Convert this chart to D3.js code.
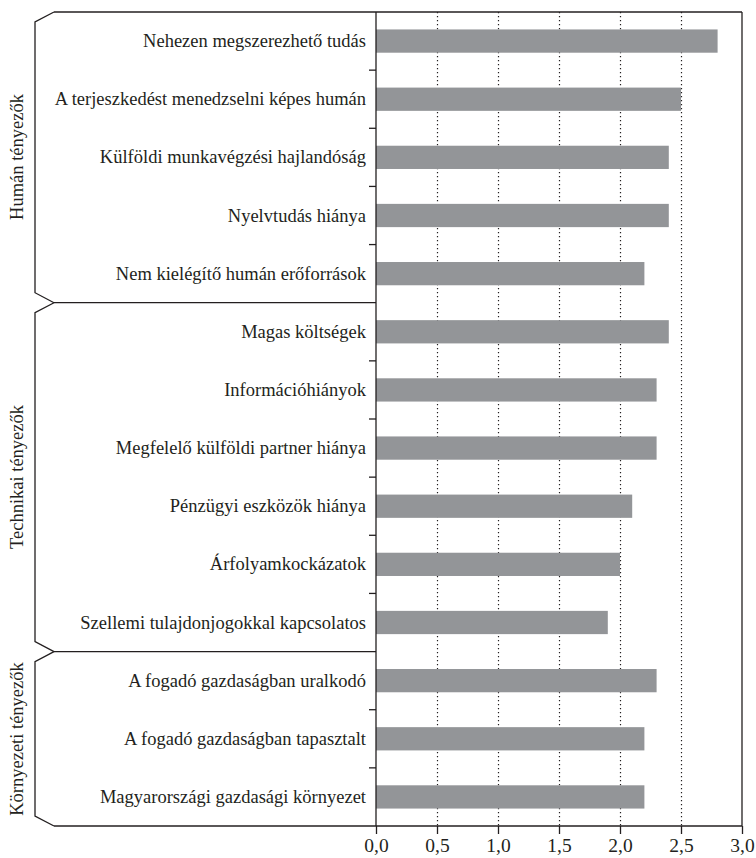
<!DOCTYPE html>
<html>
<head>
<meta charset="utf-8">
<script src="https://cdn.jsdelivr.net/npm/d3@7"></script>
<style>
  html, body { margin: 0; padding: 0; background: #fff; }
</style>
</head>
<body>
<svg id="chart" width="756" height="858"></svg>
<script>
// Factors and their average scores
const categories = [
  "Nehezen megszerezhető tudás",
  "A terjeszkedést menedzselni képes humán",
  "Külföldi munkavégzési hajlandóság",
  "Nyelvtudás hiánya",
  "Nem kielégítő humán erőforrások",
  "Magas költségek",
  "Információhiányok",
  "Megfelelő külföldi partner hiánya",
  "Pénzügyi eszközök hiánya",
  "Árfolyamkockázatok",
  "Szellemi tulajdonjogokkal kapcsolatos",
  "A fogadó gazdaságban uralkodó",
  "A fogadó gazdaságban tapasztalt",
  "Magyarországi gazdasági környezet"
];
const values = [2.8, 2.5, 2.4, 2.4, 2.2, 2.4, 2.3, 2.3, 2.1, 2.0, 1.9, 2.3, 2.2, 2.2];

// Groups: name, first category index, last category index
const groupNames = ["Humán tényezők", "Technikai tényezők", "Környezeti tényezők"];
const groupStart = [0, 5, 11];
const groupEnd = [4, 10, 13];

const xTicks = [0, 0.5, 1, 1.5, 2, 2.5, 3];
const xTickLabels = ["0,0", "0,5", "1,0", "1,5", "2,0", "2,5", "3,0"];

(function draw() {
  const svg = d3.select("#chart");
  const ink = "#231f20";
  const serif = "Liberation Serif";

  const plotLeft = 376, plotRight = 742, plotTop = 12, plotBottom = 826;
  const bracketX = 35, bracketTip = 54, notch = 10;

  const x = d3.scaleLinear().domain([0, 3]).range([plotLeft, plotRight]);
  const y = d3.scaleBand().domain(categories).range([plotTop, plotBottom]).paddingInner(0.6).paddingOuter(0.3);
  const step = y.step();
  const boundary = i => plotTop + i * step; // border above category i

  // Dotted grid lines
  svg.append("g")
    .selectAll("line")
    .data(xTicks.filter(d => d > 0 && d < 3))
    .join("line")
    .attr("x1", d => Math.round(x(d)) + 0.5)
    .attr("x2", d => Math.round(x(d)) + 0.5)
    .attr("y1", plotTop)
    .attr("y2", plotBottom)
    .attr("stroke", ink)
    .attr("stroke-width", 1.2)
    .attr("stroke-dasharray", "1.2,2.8");

  // Bars
  svg.append("g")
    .selectAll("rect")
    .data(categories)
    .join("rect")
    .attr("x", x(0))
    .attr("y", d => y(d))
    .attr("width", (d, i) => x(values[i]) - x(0))
    .attr("height", y.bandwidth())
    .attr("fill", "#939598");

  // Category labels
  svg.append("g")
    .selectAll("text")
    .data(categories)
    .join("text")
    .attr("x", plotLeft - 10)
    .attr("y", d => Math.round(y(d) + y.bandwidth() / 2 + 6))
    .attr("text-anchor", "end")
    .attr("font-size", 18.5)
    .attr("fill", ink)
    .style("font-family", serif)
    .text(d => d);

  // Y ticks between categories (inside groups)
  const innerBorders = d3.range(1, categories.length).filter(i => !groupStart.includes(i));
  svg.append("g")
    .selectAll("line")
    .data(innerBorders)
    .join("line")
    .attr("x1", plotLeft - 7)
    .attr("x2", plotLeft)
    .attr("y1", i => boundary(i))
    .attr("y2", i => boundary(i))
    .attr("stroke", ink)
    .attr("stroke-width", 1.3);

  // X axis
  const xAxis = d3.axisBottom(x)
    .tickValues(xTicks)
    .tickFormat((d, i) => xTickLabels[i])
    .tickSize(8)
    .tickPadding(4);
  const gx = svg.append("g").attr("transform", `translate(0,${plotBottom})`).call(xAxis);
  gx.select(".domain").remove();
  gx.attr("font-family", null).attr("font-size", null);
  gx.selectAll(".tick line").attr("stroke", ink).attr("stroke-width", 1.3);
  gx.selectAll(".tick text")
    .attr("font-size", 19.5)
    .attr("fill", ink)
    .style("font-family", serif);

  // Frame: top, right, bottom and the value axis
  const frame = svg.append("g").attr("stroke", ink).attr("stroke-width", 1.3).attr("fill", "none");
  frame.append("line").attr("x1", bracketTip).attr("x2", plotRight).attr("y1", plotTop).attr("y2", plotTop);
  frame.append("line").attr("x1", bracketTip).attr("x2", plotRight).attr("y1", plotBottom).attr("y2", plotBottom);
  frame.append("line").attr("x1", plotRight).attr("x2", plotRight).attr("y1", plotTop).attr("y2", plotBottom);
  frame.append("line").attr("x1", plotLeft).attr("x2", plotLeft).attr("y1", plotTop).attr("y2", plotBottom);

  // Group separators
  groupStart.slice(1).forEach(i => {
    frame.append("line")
      .attr("x1", bracketTip).attr("x2", plotLeft)
      .attr("y1", boundary(i)).attr("y2", boundary(i));
  });

  // Group brackets with angled ends
  groupNames.forEach((name, g) => {
    const y0 = boundary(groupStart[g]);
    const y1 = boundary(groupEnd[g] + 1);
    const p = d3.path();
    p.moveTo(bracketTip, y0);
    p.lineTo(bracketX, y0 + notch);
    p.lineTo(bracketX, y1 - notch);
    p.lineTo(bracketTip, y1);
    frame.append("path").attr("d", p.toString());

    svg.append("text")
      .attr("transform", `translate(${bracketX - 12},${Math.round((y0 + y1) / 2)}) rotate(-90)`)
      .attr("text-anchor", "middle")
      .attr("font-size", 18.5)
      .attr("fill", ink)
      .style("font-family", serif)
      .text(name);
  });
})();
</script>
</body>
</html>
